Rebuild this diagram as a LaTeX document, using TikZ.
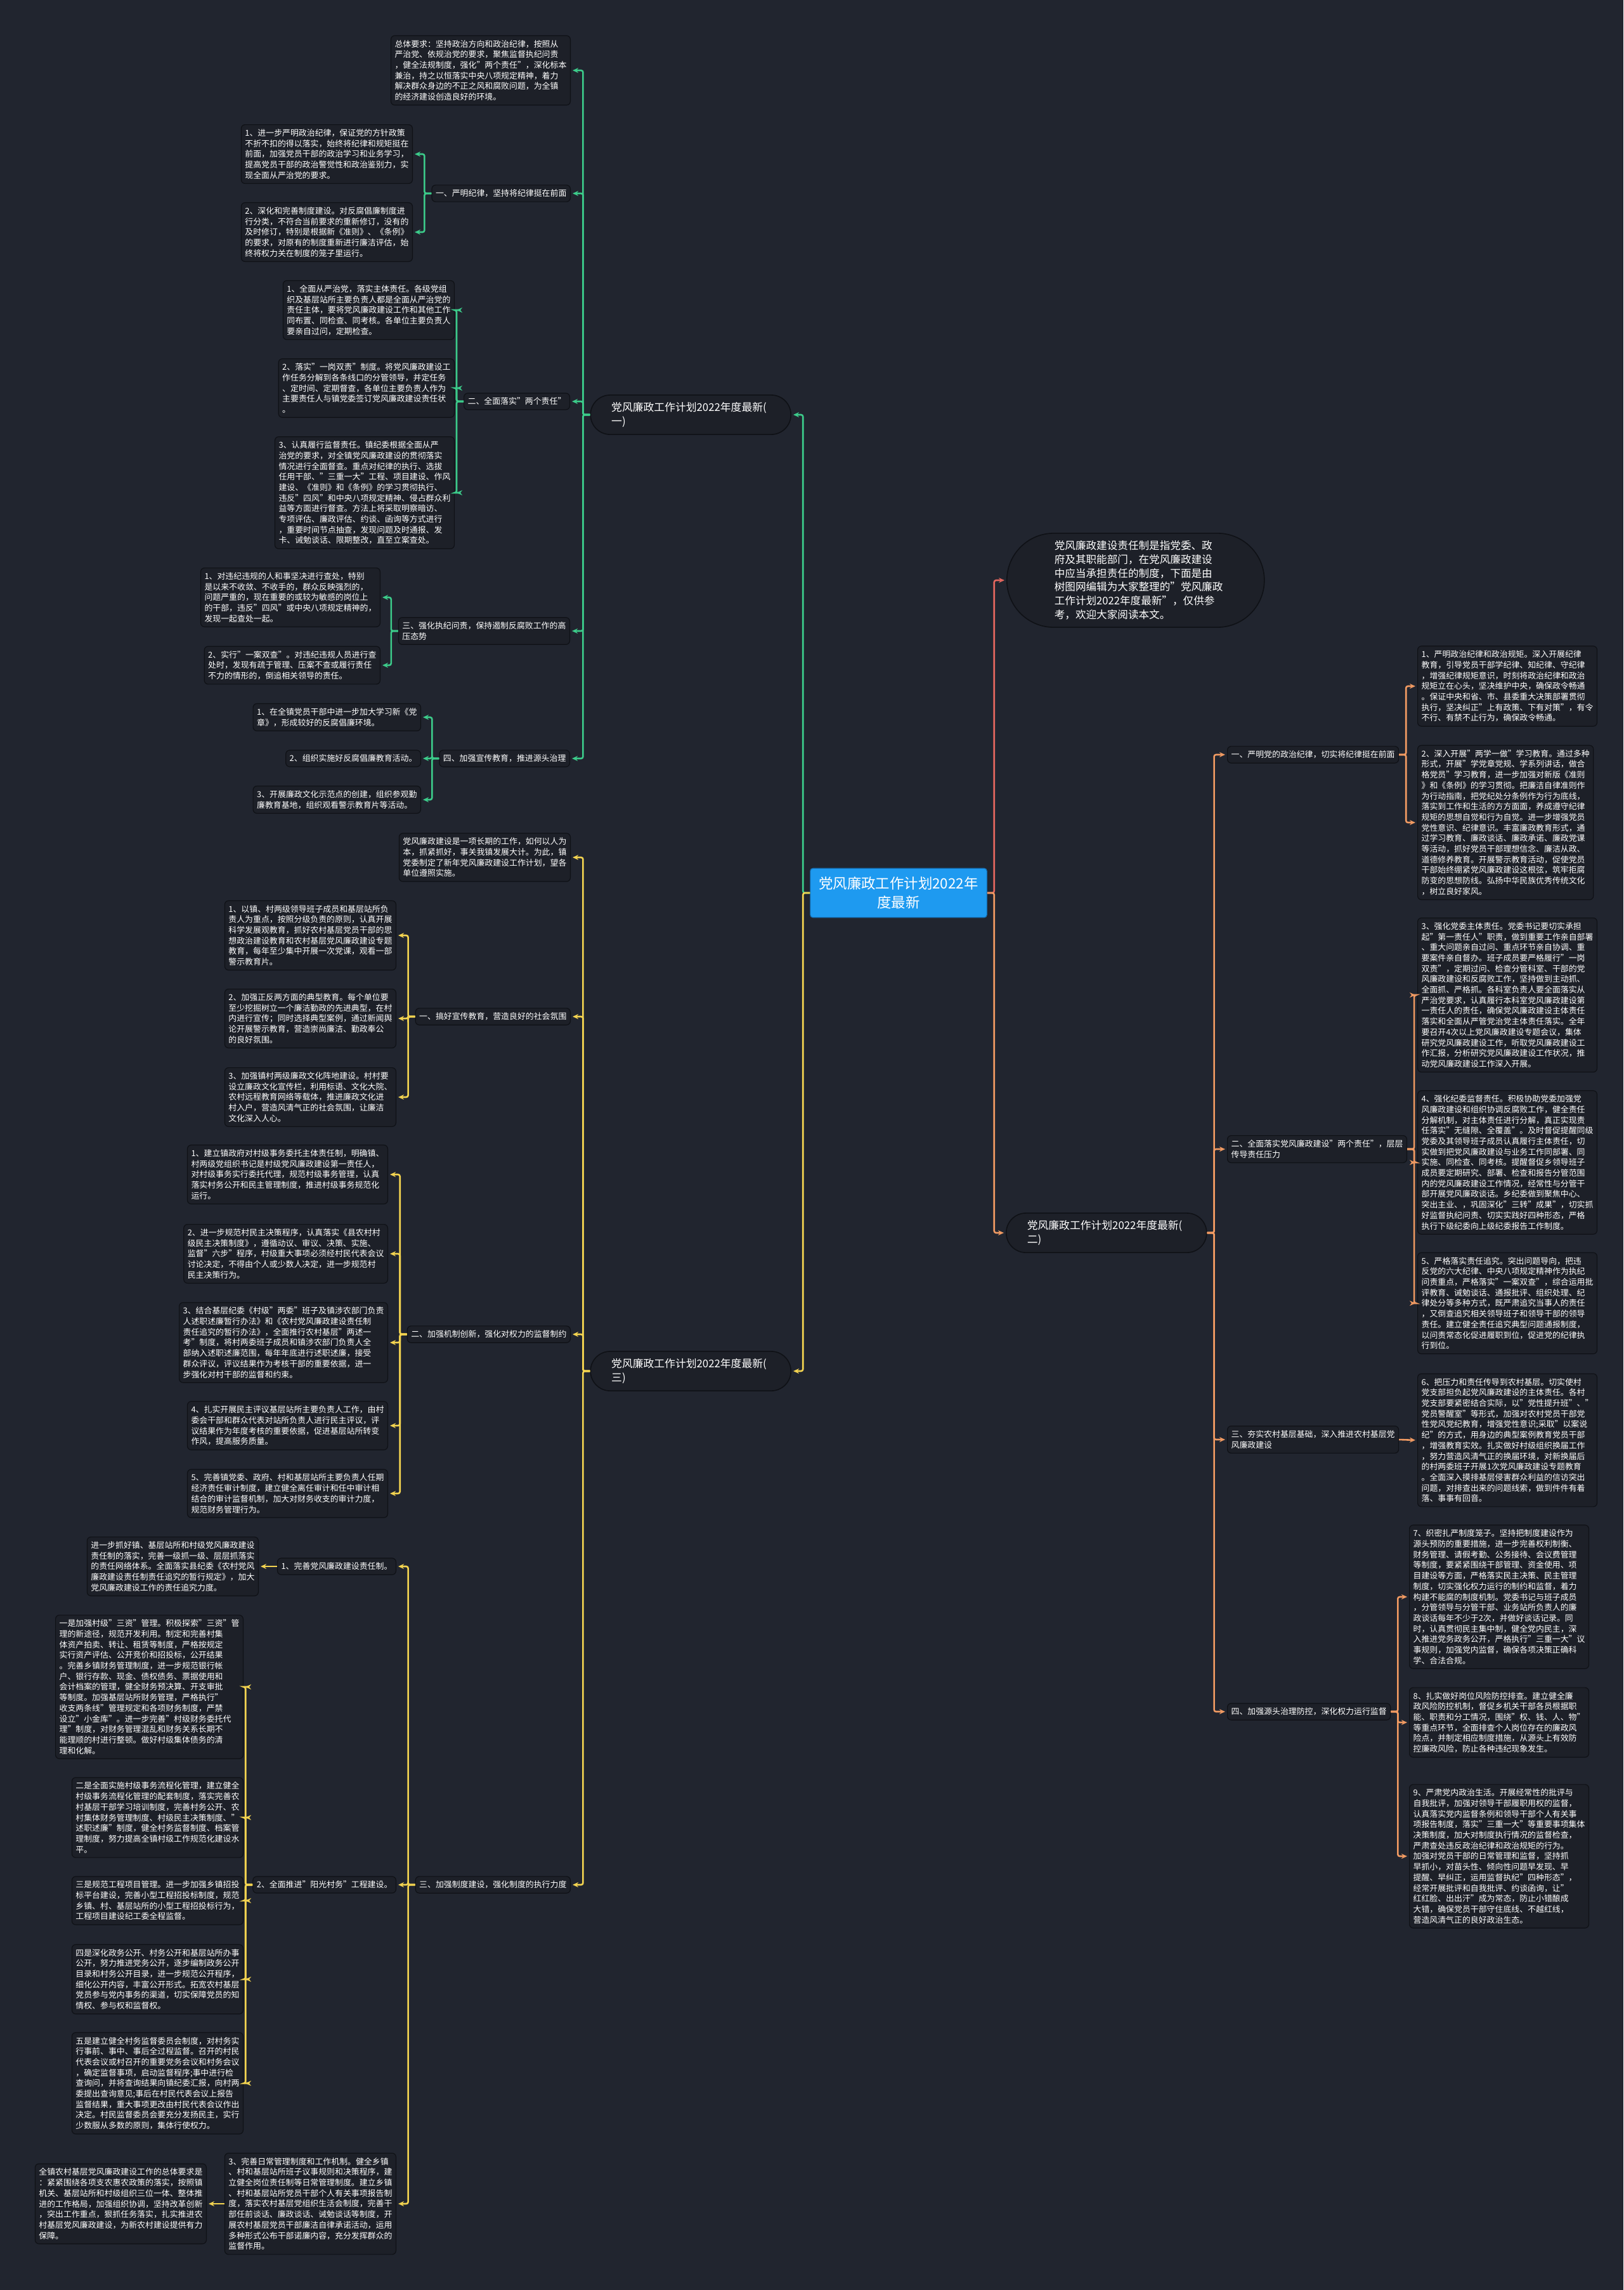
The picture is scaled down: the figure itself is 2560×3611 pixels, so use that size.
\documentclass[tikz,border=0pt]{standalone}
\usepackage{fontspec}
\setmainfont{Noto Sans CJK SC}
\usetikzlibrary{arrows.meta, calc}
\definecolor{bgnavy}{HTML}{21252F}
\definecolor{boxfill}{HTML}{1D2028}
\definecolor{boxedge}{HTML}{0F1116}
\definecolor{cblue}{HTML}{1E9AF0}
\definecolor{cedge}{HTML}{1572B8}
\definecolor{tgreen}{HTML}{3CCB8A}
\definecolor{tyellow}{HTML}{F2D350}
\definecolor{torange}{HTML}{F09A62}
\definecolor{tred}{HTML}{E2665E}

\tikzset{
  box/.style={draw=boxedge, fill=boxfill, rounded corners=6pt, line width=1.2pt, text=white,
    align=left, inner xsep=6pt, inner ysep=7pt, font=\fontsize{12.9}{16.7}\selectfont},
  headbox/.style={box},
  topic/.style={draw=boxedge, fill=boxfill, rounded corners=31pt, line width=1.6pt, text=white,
    align=left, text width=250pt, inner xsep=33pt, inner ysep=11.5pt, font=\fontsize{16.8}{21.7}\selectfont},
  introbox/.style={draw=boxedge, fill=boxfill, rounded corners=74pt, line width=1.6pt, text=white,
    align=left, text width=256pt, inner xsep=75pt, inner ysep=12pt, font=\fontsize{16.6}{21.7}\selectfont},
  rootbox/.style={draw=cedge, fill=cblue, rounded corners=4pt, line width=1.2pt, text=white,
    align=center, inner sep=13.5pt, font=\fontsize{22.4}{29.7}\selectfont},
  link/.style={line width=2.6pt, rounded corners=3pt, -{Stealth[length=9pt, width=8pt]}, shorten >=3pt},
  gline/.style={link, draw=tgreen},
  yline/.style={link, draw=tyellow},
  oline/.style={link, draw=torange},
  rline/.style={link, draw=tred}
}

\begin{document}
\begin{tikzpicture}[x=1pt, y=-1pt]

% Background
\fill[bgnavy] (0,0) rectangle (2560,3611);
\useasboundingbox (0,0) rectangle (2560,3611);

% Root
\node[rootbox] (root) at (1417,1408) {党风廉政工作计划2022年\\度最新};

% Main topics
\node[topic, anchor=east] (p1) at (1248,654) {党风廉政工作计划2022年度最新(\\一)};
\node[topic, anchor=west] (p2) at (1586,1944) {党风廉政工作计划2022年度最新(\\二)};
\node[topic, anchor=east] (p3) at (1248,2162) {党风廉政工作计划2022年度最新(\\三)};
\node[introbox, anchor=west] (intro) at (1587,915) {党风廉政建设责任制是指党委、政\\府及其职能部门，在党风廉政建设\\中应当承担责任的制度，下面是由\\树图网编辑为大家整理的"党风廉政\\工作计划2022年度最新"，仅供参\\考，欢迎大家阅读本文。};

% --- (一) green branch ---
\node[box, anchor=east] (a0) at (900,111) {总体要求：坚持政治方向和政治纪律，按照从\\严治党、依规治党的要求，聚焦监督执纪问责\\，健全法规制度，强化"两个责任"，深化标本\\兼治，持之以恒落实中央八项规定精神，着力\\解决群众身边的不正之风和腐败问题，为全镇\\的经济建设创造良好的环境。};
\node[headbox, anchor=east] (a1) at (900,305) {一、严明纪律，坚持将纪律挺在前面};
\node[box, anchor=east] (a11) at (651,243) {1、进一步严明政治纪律，保证党的方针政策\\不折不扣的得以落实，始终将纪律和规矩挺在\\前面，加强党员干部的政治学习和业务学习，\\提高党员干部的政治警觉性和政治鉴别力，实\\现全面从严治党的要求。};
\node[box, anchor=east] (a12) at (651,366) {2、深化和完善制度建设。对反腐倡廉制度进\\行分类，不符合当前要求的重新修订，没有的\\及时修订，特别是根据新《准则》、《条例》\\的要求，对原有的制度重新进行廉洁评估，始\\终将权力关在制度的笼子里运行。};
\node[headbox, anchor=east] (a2) at (899,633) {二、全面落实"两个责任"};
\node[box, anchor=east] (a21) at (717,489) {1、全面从严治党，落实主体责任。各级党组\\织及基层站所主要负责人都是全面从严治党的\\责任主体，要将党风廉政建设工作和其他工作\\同布置、同检查、同考核。各单位主要负责人\\要亲自过问，定期检查。};
\node[box, anchor=east] (a22) at (717,612) {2、落实"一岗双责"制度。将党风廉政建设工\\作任务分解到各条线口的分管领导，并定任务\\、定时间、定期督查，各单位主要负责人作为\\主要责任人与镇党委签订党风廉政建设责任状\\。};
\node[box, anchor=east] (a23) at (717,777) {3、认真履行监督责任。镇纪委根据全面从严\\治党的要求，对全镇党风廉政建设的贯彻落实\\情况进行全面督查。重点对纪律的执行、选拔\\任用干部、"三重一大"工程、项目建设、作风\\建设、《准则》和《条例》的学习贯彻执行、\\违反"四风"和中央八项规定精神、侵占群众利\\益等方面进行督查。方法上将采取明察暗访、\\专项评估、廉政评估、约谈、函询等方式进行\\，重要时间节点抽查，发现问题及时通报、发\\卡、诫勉谈话、限期整改，直至立案查处。};
\node[headbox, anchor=east] (a3) at (899,995) {三、强化执纪问责，保持遏制反腐败工作的高\\压态势};
\node[box, anchor=east] (a31) at (600,942) {1、对违纪违规的人和事坚决进行查处，特别\\是以来不收敛、不收手的，群众反映强烈的，\\问题严重的，现在重要的或较为敏感的岗位上\\的干部，违反"四风"或中央八项规定精神的，\\发现一起查处一起。};
\node[box, anchor=east] (a32) at (600,1049) {2、实行"一案双查"。对违纪违规人员进行查\\处时，发现有疏于管理、压案不查或履行责任\\不力的情形的，倒追相关领导的责任。};
\node[headbox, anchor=east] (a4) at (899,1196) {四、加强宣传教育，推进源头治理};
\node[box, anchor=east] (a41) at (664,1131) {1、在全镇党员干部中进一步加大学习新《党\\章》，形成较好的反腐倡廉环境。};
\node[box, anchor=east] (a42) at (664,1196) {2、组织实施好反腐倡廉教育活动。};
\node[box, anchor=east] (a43) at (664,1261) {3、开展廉政文化示范点的创建，组织参观勤\\廉教育基地，组织观看警示教育片等活动。};

% --- (三) yellow branch ---
\node[box, anchor=east] (c0) at (900,1352) {党风廉政建设是一项长期的工作，如何以人为\\本，抓紧抓好，事关我镇发展大计。为此，镇\\党委制定了新年党风廉政建设工作计划，望各\\单位遵照实施。};
\node[headbox, anchor=east] (c1) at (900,1603) {一、搞好宣传教育，营造良好的社会氛围};
\node[box, anchor=east] (c11) at (625,1475) {1、以镇、村两级领导班子成员和基层站所负\\责人为重点，按照分级负责的原则，认真开展\\科学发展观教育，抓好农村基层党员干部的思\\想政治建设教育和农村基层党风廉政建设专题\\教育，每年至少集中开展一次党课，观看一部\\警示教育片。};
\node[box, anchor=east] (c12) at (625,1606) {2、加强正反两方面的典型教育。每个单位要\\至少挖掘树立一个廉洁勤政的先进典型，在村\\内进行宣传；同时选择典型案例，通过新闻舆\\论开展警示教育，营造崇尚廉洁、勤政奉公\\的良好氛围。};
\node[box, anchor=east] (c13) at (625,1730) {3、加强镇村两级廉政文化阵地建设。村村要\\设立廉政文化宣传栏，利用标语、文化大院、\\农村远程教育网络等载体，推进廉政文化进\\村入户，营造风清气正的社会氛围，让廉洁\\文化深入人心。};
\node[headbox, anchor=east] (c2) at (900,2104) {二、加强机制创新，强化对权力的监督制约};
\node[box, anchor=east] (c21) at (612,1852) {1、建立镇政府对村级事务委托主体责任制，明确镇、\\村两级党组织书记是村级党风廉政建设第一责任人，\\对村级事务实行委托代理，规范村级事务管理，认真\\落实村务公开和民主管理制度，推进村级事务规范化\\运行。};
\node[box, anchor=east] (c22) at (612,1977) {2、进一步规范村民主决策程序，认真落实《县农村村\\级民主决策制度》，遵循动议、审议、决策、实施、\\监督"六步"程序，村级重大事项必须经村民代表会议\\讨论决定，不得由个人或少数人决定，进一步规范村\\民主决策行为。};
\node[box, anchor=east] (c23) at (612,2117) {3、结合基层纪委《村级"两委"班子及镇涉农部门负责\\人述职述廉暂行办法》和《农村党风廉政建设责任制\\责任追究的暂行办法》，全面推行农村基层"两述一\\考"制度，将村两委班子成员和镇涉农部门负责人全\\部纳入述职述廉范围，每年年底进行述职述廉，接受\\群众评议，评议结果作为考核干部的重要依据，进一\\步强化对村干部的监督和约束。};
\node[box, anchor=east] (c24) at (612,2248) {4、扎实开展民主评议基层站所主要负责人工作，由村\\委会干部和群众代表对站所负责人进行民主评议，评\\议结果作为年度考核的重要依据，促进基层站所转变\\作风，提高服务质量。};
\node[box, anchor=east] (c25) at (612,2355) {5、完善镇党委、政府、村和基层站所主要负责人任期\\经济责任审计制度，建立健全离任审计和任中审计相\\结合的审计监督机制，加大对财务收支的审计力度，\\规范财务管理行为。};
\node[headbox, anchor=east] (c3) at (900,2972) {三、加强制度建设，强化制度的执行力度};
\node[headbox, anchor=east] (c31) at (625,2470) {1、完善党风廉政建设责任制。};
\node[box, anchor=east] (c311) at (408,2470) {进一步抓好镇、基层站所和村级党风廉政建设\\责任制的落实，完善一级抓一级、层层抓落实\\的责任网络体系。全面落实县纪委《农村党风\\廉政建设责任制责任追究的暂行规定》，加大\\党风廉政建设工作的责任追究力度。};
\node[headbox, anchor=east] (c32) at (625,2972) {2、全面推进"阳光村务"工程建设。};
\node[box, anchor=east] (c321) at (384,2660) {一是加强村级"三资"管理。积极探索"三资"管\\理的新途径，规范开发利用。制定和完善村集\\体资产拍卖、转让、租赁等制度，严格按规定\\实行资产评估、公开竞价和招投标，公开结果\\。完善乡镇财务管理制度，进一步规范银行帐\\户、银行存款、现金、债权债务、票据使用和\\会计档案的管理，健全财务预决算、开支审批\\等制度。加强基层站所财务管理，严格执行"\\收支两条线"管理规定和各项财务制度，严禁\\设立"小金库"。进一步完善"村级财务委托代\\理"制度，对财务管理混乱和财务关系长期不\\能理顺的村进行整顿。做好村级集体债务的清\\理和化解。};
\node[box, anchor=east] (c322) at (384,2866) {二是全面实施村级事务流程化管理，建立健全\\村级事务流程化管理的配套制度，落实完善农\\村基层干部学习培训制度，完善村务公开、农\\村集体财务管理制度、村级民主决策制度、"\\述职述廉"制度，健全村务监督制度、档案管\\理制度，努力提高全镇村级工作规范化建设水\\平。};
\node[box, anchor=east] (c323) at (384,2997) {三是规范工程项目管理。进一步加强乡镇招投\\标平台建设，完善小型工程招投标制度，规范\\乡镇、村、基层站所的小型工程招投标行为，\\工程项目建设纪工委全程监督。};
\node[box, anchor=east] (c324) at (384,3121) {四是深化政务公开、村务公开和基层站所办事\\公开，努力推进党务公开，逐步编制政务公开\\目录和村务公开目录，进一步规范公开程序，\\细化公开内容，丰富公开形式。拓宽农村基层\\党员参与党内事务的渠道，切实保障党员的知\\情权、参与权和监督权。};
\node[box, anchor=east] (c325) at (384,3285) {五是建立健全村务监督委员会制度，对村务实\\行事前、事中、事后全过程监督。召开的村民\\代表会议或村召开的重要党务会议和村务会议\\，确定监督事项，启动监督程序;事中进行检\\查询问，并将查询结果向镇纪委汇报，向村两\\委提出查询意见;事后在村民代表会议上报告\\监督结果，重大事项更改由村民代表会议作出\\决定。村民监督委员会要充分发扬民主，实行\\少数服从多数的原则，集体行使权力。};
\node[box, anchor=east] (c33) at (625,3475) {3、完善日常管理制度和工作机制。健全乡镇\\、村和基层站所班子议事规则和决策程序，建\\立健全岗位责任制等日常管理制度。建立乡镇\\、村和基层站所党员干部个人有关事项报告制\\度，落实农村基层党组织生活会制度，完善干\\部任前谈话、廉政谈话、诫勉谈话等制度，开\\展农村基层党员干部廉洁自律承诺活动，运用\\多种形式公布干部诺廉内容，充分发挥群众的\\监督作用。};
\node[box, anchor=east] (c331) at (326,3475) {全镇农村基层党风廉政建设工作的总体要求是\\：紧紧围绕各项支农惠农政策的落实，按照镇\\机关、基层站所和村级组织三位一体、整体推\\进的工作格局，加强组织协调，坚持改革创新\\，突出工作重点，狠抓任务落实，扎实推进农\\村基层党风廉政建设，为新农村建设提供有力\\保障。};

% --- (二) orange branch ---
\node[headbox, anchor=west] (b1) at (1935,1190) {一、严明党的政治纪律，切实将纪律挺在前面};
\node[box, anchor=west] (b11) at (2235,1082) {1、严明政治纪律和政治规矩。深入开展纪律\\教育，引导党员干部学纪律、知纪律、守纪律\\，增强纪律规矩意识，时刻将政治纪律和政治\\规矩立在心头，坚决维护中央，确保政令畅通\\。保证中央和省、市、县委重大决策部署贯彻\\执行，坚决纠正"上有政策、下有对策"，有令\\不行、有禁不止行为，确保政令畅通。};
\node[box, anchor=west] (b12) at (2235,1297) {2、深入开展"两学一做"学习教育。通过多种\\形式，开展"学党章党规、学系列讲话，做合\\格党员"学习教育，进一步加强对新版《准则\\》和《条例》的学习贯彻。把廉洁自律准则作\\为行动指南，把党纪处分条例作为行为底线，\\落实到工作和生活的方方面面，养成遵守纪律\\规矩的思想自觉和行为自觉。进一步增强党员\\党性意识、纪律意识。丰富廉政教育形式，通\\过学习教育、廉政谈话、廉政承诺、廉政党课\\等活动，抓好党员干部理想信念、廉洁从政、\\道德修养教育。开展警示教育活动，促使党员\\干部始终绷紧党风廉政建设这根弦，筑牢拒腐\\防变的思想防线。弘扬中华民族优秀传统文化\\，树立良好家风。};
\node[headbox, anchor=west] (b2) at (1935,1812) {二、全面落实党风廉政建设"两个责任"，层层\\传导责任压力};
\node[box, anchor=west] (b21) at (2235,1569) {3、强化党委主体责任。党委书记要切实承担\\起"第一责任人"职责，做到重要工作亲自部署\\、重大问题亲自过问、重点环节亲自协调、重\\要案件亲自督办。班子成员要严格履行"一岗\\双责"，定期过问、检查分管科室、干部的党\\风廉政建设和反腐败工作，坚持做到主动抓、\\全面抓、严格抓。各科室负责人要全面落实从\\严治党要求，认真履行本科室党风廉政建设第\\一责任人的责任，确保党风廉政建设主体责任\\落实和全面从严管党治党主体责任落实。全年\\要召开4次以上党风廉政建设专题会议，集体\\研究党风廉政建设工作，听取党风廉政建设工\\作汇报，分析研究党风廉政建设工作状况，推\\动党风廉政建设工作深入开展。};
\node[box, anchor=west] (b22) at (2235,1833) {4、强化纪委监督责任。积极协助党委加强党\\风廉政建设和组织协调反腐败工作，健全责任\\分解机制，对主体责任进行分解，真正实现责\\任落实"无缝隙、全覆盖"。及时督促提醒同级\\党委及其领导班子成员认真履行主体责任，切\\实做到把党风廉政建设与业务工作同部署、同\\实施、同检查、同考核。提醒督促乡领导班子\\成员要定期研究、部署、检查和报告分管范围\\内的党风廉政建设工作情况，经常性与分管干\\部开展党风廉政谈话。乡纪委做到聚焦中心、\\突出主业、，巩固深化"三转"成果"，切实抓\\好监督执纪问责、切实实践好四种形态，严格\\执行下级纪委向上级纪委报告工作制度。};
\node[box, anchor=west] (b23) at (2235,2055) {5、严格落实责任追究。突出问题导向，把违\\反党的六大纪律、中央八项规定精神作为执纪\\问责重点，严格落实"一案双查"，综合运用批\\评教育、诫勉谈话、通报批评、组织处理、纪\\律处分等多种方式，既严肃追究当事人的责任\\，又倒查追究相关领导班子和领导干部的领导\\责任。建立健全责任追究典型问题通报制度，\\以问责常态化促进履职到位，促进党的纪律执\\行到位。};
\node[headbox, anchor=west] (b3) at (1935,2270) {三、夯实农村基层基础，深入推进农村基层党\\风廉政建设};
\node[box, anchor=west] (b31) at (2235,2271) {6、把压力和责任传导到农村基层。切实使村\\党支部担负起党风廉政建设的主体责任。各村\\党支部要紧密结合实际，以"党性提升班"、"\\党员警醒室"等形式，加强对农村党员干部党\\性党风党纪教育，增强党性意识;采取"以案说\\纪"的方式，用身边的典型案例教育党员干部\\，增强教育实效。扎实做好村级组织换届工作\\，努力营造风清气正的换届环境，对新换届后\\的村两委班子开展1次党风廉政建设专题教育\\。全面深入摸排基层侵害群众利益的信访突出\\问题，对排查出来的问题线索，做到件件有着\\落、事事有回音。};
\node[headbox, anchor=west] (b4) at (1935,2699) {四、加强源头治理防控，深化权力运行监督};
\node[box, anchor=west] (b41) at (2222,2518) {7、织密扎严制度笼子。坚持把制度建设作为\\源头预防的重要措施，进一步完善权利制衡、\\财务管理、请假考勤、公务接待、会议费管理\\等制度，要紧紧围绕干部管理、资金使用、项\\目建设等方面，严格落实民主决策、民主管理\\制度，切实强化权力运行的制约和监督，着力\\构建不能腐的制度机制。党委书记与班子成员\\，分管领导与分管干部、业务站所负责人的廉\\政谈话每年不少于2次，并做好谈话记录。同\\时，认真贯彻民主集中制，健全党内民主，深\\入推进党务政务公开，严格执行"三重一大"议\\事规则，加强党内监督，确保各项决策正确科\\学、合法合规。};
\node[box, anchor=west] (b42) at (2222,2716) {8、扎实做好岗位风险防控排查。建立健全廉\\政风险防控机制，督促乡机关干部各员根据职\\能、职责和分工情况，围绕"权、钱、人、物"\\等重点环节，全面排查个人岗位存在的廉政风\\险点，并制定相应制度措施，从源头上有效防\\控廉政风险，防止各种违纪现象发生。};
\node[box, anchor=west] (b43) at (2222,2927) {9、严肃党内政治生活。开展经常性的批评与\\自我批评，加强对领导干部履职用权的监督，\\认真落实党内监督条例和领导干部个人有关事\\项报告制度，落实"三重一大"等重要事项集体\\决策制度，加大对制度执行情况的监督检查，\\严肃查处违反政治纪律和政治规矩的行为。\\加强对党员干部的日常管理和监督，坚持抓\\早抓小，对苗头性、倾向性问题早发现、早\\提醒、早纠正，运用监督执纪"四种形态"，\\经常开展批评和自我批评、约谈函询，让"\\红红脸、出出汗"成为常态，防止小错酿成\\大错，确保党员干部守住底线、不越红线，\\营造风清气正的良好政治生态。};

% --- connectors: root ---
\draw[gline] (root.west) -- ++(-11,0) |- (p1.east);
\draw[yline] (root.west) -- ++(-11,0) |- (p3.east);
\draw[rline] (root.east) -- ++(11,0) |- (intro.west);
\draw[oline] (root.east) -- ++(11,0) |- (p2.west);

% green
\draw[gline] (p1.west) -- ++(-11,0) |- (a0.east);
\draw[gline] (p1.west) -- ++(-11,0) |- (a1.east);
\draw[gline] (p1.west) -- ++(-11,0) |- (a2.east);
\draw[gline] (p1.west) -- ++(-11,0) |- (a3.east);
\draw[gline] (p1.west) -- ++(-11,0) |- (a4.east);
\draw[gline] (a1.west) -- ++(-11,0) |- (a11.east);
\draw[gline] (a1.west) -- ++(-11,0) |- (a12.east);
\draw[gline] (a2.west) -- ++(-11,0) |- (a21.east);
\draw[gline] (a2.west) -- ++(-11,0) |- (a22.east);
\draw[gline] (a2.west) -- ++(-11,0) |- (a23.east);
\draw[gline] (a3.west) -- ++(-11,0) |- (a31.east);
\draw[gline] (a3.west) -- ++(-11,0) |- (a32.east);
\draw[gline] (a4.west) -- ++(-11,0) |- (a41.east);
\draw[gline] (a4.west) -- ++(-11,0) |- (a42.east);
\draw[gline] (a4.west) -- ++(-11,0) |- (a43.east);

% yellow
\draw[yline] (p3.west) -- ++(-11,0) |- (c0.east);
\draw[yline] (p3.west) -- ++(-11,0) |- (c1.east);
\draw[yline] (p3.west) -- ++(-11,0) |- (c2.east);
\draw[yline] (p3.west) -- ++(-11,0) |- (c3.east);
\draw[yline] (c1.west) -- ++(-11,0) |- (c11.east);
\draw[yline] (c1.west) -- ++(-11,0) |- (c12.east);
\draw[yline] (c1.west) -- ++(-11,0) |- (c13.east);
\draw[yline] (c2.west) -- ++(-11,0) |- (c21.east);
\draw[yline] (c2.west) -- ++(-11,0) |- (c22.east);
\draw[yline] (c2.west) -- ++(-11,0) |- (c23.east);
\draw[yline] (c2.west) -- ++(-11,0) |- (c24.east);
\draw[yline] (c2.west) -- ++(-11,0) |- (c25.east);
\draw[yline] (c3.west) -- ++(-11,0) |- (c31.east);
\draw[yline] (c3.west) -- ++(-11,0) |- (c32.east);
\draw[yline] (c3.west) -- ++(-11,0) |- (c33.east);
\draw[yline] (c31.west) -- (c311.east);
\draw[yline] (c32.west) -- ++(-11,0) |- (c321.east);
\draw[yline] (c32.west) -- ++(-11,0) |- (c322.east);
\draw[yline] (c32.west) -- ++(-11,0) |- (c323.east);
\draw[yline] (c32.west) -- ++(-11,0) |- (c324.east);
\draw[yline] (c32.west) -- ++(-11,0) |- (c325.east);
\draw[yline] (c33.west) -- (c331.east);

% orange
\draw[oline] (p2.east) -- ++(11,0) |- (b1.west);
\draw[oline] (p2.east) -- ++(11,0) |- (b2.west);
\draw[oline] (p2.east) -- ++(11,0) |- (b3.west);
\draw[oline] (p2.east) -- ++(11,0) |- (b4.west);
\draw[oline] (b1.east) -- ++(11,0) |- (b11.west);
\draw[oline] (b1.east) -- ++(11,0) |- (b12.west);
\draw[oline] (b2.east) -- ++(11,0) |- (b21.west);
\draw[oline] (b2.east) -- ++(11,0) |- (b22.west);
\draw[oline] (b2.east) -- ++(11,0) |- (b23.west);
\draw[oline] (b3.east) -- (b31.west);
\draw[oline] (b4.east) -- ++(11,0) |- (b41.west);
\draw[oline] (b4.east) -- ++(11,0) |- (b42.west);
\draw[oline] (b4.east) -- ++(11,0) |- (b43.west);

\end{tikzpicture}
\end{document}
